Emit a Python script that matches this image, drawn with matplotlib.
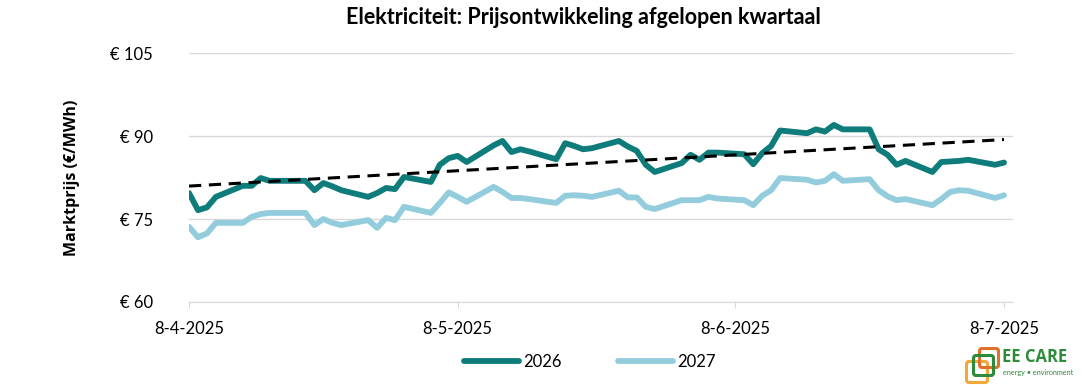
import numpy as np
import pandas as pd
import matplotlib
matplotlib.use('Agg')
from matplotlib import pyplot as plt
import matplotlib.dates as mdates
from matplotlib.patches import FancyBboxPatch

# Handelsdagen (werkdagen) afgelopen kwartaal
datums = [
    '2025-04-08', '2025-04-09', '2025-04-10', '2025-04-11',
    '2025-04-14', '2025-04-15', '2025-04-16', '2025-04-17', '2025-04-18',
    '2025-04-21', '2025-04-22', '2025-04-23', '2025-04-24', '2025-04-25',
    '2025-04-28', '2025-04-29', '2025-04-30', '2025-05-01', '2025-05-02',
    '2025-05-05', '2025-05-06', '2025-05-07', '2025-05-08', '2025-05-09',
    '2025-05-12', '2025-05-13', '2025-05-14', '2025-05-15', '2025-05-16',
    '2025-05-19', '2025-05-20', '2025-05-21', '2025-05-22', '2025-05-23',
    '2025-05-26', '2025-05-27', '2025-05-28', '2025-05-29', '2025-05-30',
    '2025-06-02', '2025-06-03', '2025-06-04', '2025-06-05', '2025-06-06',
    '2025-06-09', '2025-06-10', '2025-06-11', '2025-06-12', '2025-06-13',
    '2025-06-16', '2025-06-17', '2025-06-18', '2025-06-19', '2025-06-20',
    '2025-06-23', '2025-06-24', '2025-06-25', '2025-06-26', '2025-06-27',
    '2025-06-30', '2025-07-01', '2025-07-02', '2025-07-03', '2025-07-04',
    '2025-07-07', '2025-07-08',
]

prijs_2026 = [
    79.7, 76.6, 77.1, 79.0,
    81.0, 81.0, 82.4, 81.9, 81.9,
    81.9, 80.2, 81.5, 80.9, 80.2,
    79.0, 79.7, 80.6, 80.4, 82.6,
    81.7, 84.8, 86.0, 86.4, 85.3,
    88.3, 89.1, 87.1, 87.6, 87.2,
    85.8, 88.7, 88.2, 87.6, 87.8,
    89.1, 88.1, 87.3, 84.8, 83.5,
    85.1, 86.6, 85.7, 87.0, 87.0,
    86.7, 84.9, 86.9, 88.2, 91.0,
    90.5, 91.2, 90.8, 92.0, 91.2,
    91.2, 87.6, 86.6, 84.8, 85.5,
    83.5, 85.3, 85.4, 85.5, 85.7,
    84.8, 85.2,
]

prijs_2027 = [
    73.6, 71.7, 72.4, 74.3,
    74.3, 75.4, 75.9, 76.1, 76.1,
    76.1, 73.9, 75.0, 74.3, 73.9,
    74.8, 73.4, 75.2, 74.8, 77.2,
    76.1, 77.9, 79.8, 79.0, 78.1,
    80.8, 79.9, 78.8, 78.8, 78.6,
    77.9, 79.2, 79.3, 79.2, 79.0,
    80.1, 78.9, 78.9, 77.2, 76.8,
    78.4, 78.4, 78.4, 79.0, 78.7,
    78.4, 77.5, 79.2, 80.2, 82.4,
    82.1, 81.6, 81.9, 83.1, 81.9,
    82.2, 80.2, 79.1, 78.4, 78.6,
    77.5, 78.6, 79.9, 80.2, 80.1,
    78.8, 79.3,
]

x_ticks = ['2025-04-08', '2025-05-08', '2025-06-08', '2025-07-08']
y_ticks = [60, 75, 90, 105]

plt.rcParams['font.family'] = ['Lato', 'DejaVu Sans']

x = pd.to_datetime(datums)
xn = mdates.date2num(x)

kleur_2026 = '#0E7C7B'
kleur_2027 = '#93CDDD'

fig = plt.figure(figsize=(10.82, 3.85), dpi=100)
ax = fig.add_axes([0.1747, 0.2156, 0.7615, 0.6467])

ax.plot(x, prijs_2026, color=kleur_2026, lw=4.2, solid_capstyle='round',
        solid_joinstyle='round', label='2026', zorder=3)
ax.plot(x, prijs_2027, color=kleur_2027, lw=4.2, solid_capstyle='round',
        solid_joinstyle='round', label='2027', zorder=2)

# Lineaire trendlijn van 2026
coef = np.polyfit(xn, prijs_2026, 1)
ax.plot(x, np.polyval(coef, xn), color='black', lw=2.2, ls=(0, (4, 2.5)), zorder=4)

ax.set_ylim(60, 105)
ax.set_yticks(y_ticks)
ax.set_yticklabels([f'€ {v}' for v in y_ticks], fontsize=12)
ax.set_xlim(pd.Timestamp('2025-04-08'), pd.Timestamp('2025-07-09'))
ax.set_xticks(pd.to_datetime(x_ticks))
ax.set_xticklabels([pd.Timestamp(d).strftime('%-d-%-m-%Y') for d in x_ticks], fontsize=12)

ax.grid(axis='y', color='#D9D9D9', lw=1)
ax.set_axisbelow(True)
for s in ['top', 'right', 'left']:
    ax.spines[s].set_visible(False)
ax.spines['bottom'].set_color('#D9D9D9')
ax.tick_params(axis='y', length=0, pad=26)
ax.tick_params(axis='x', length=4, color='#D9D9D9', pad=10)

ax.set_ylabel('Marktprijs (€/MWh)', fontsize=11.5, fontweight='bold', labelpad=22,
              family=['Open Sans', 'DejaVu Sans'])

fig.text(0.539, 0.955, 'Elektriciteit: Prijsontwikkeling afgelopen kwartaal',
         ha='center', va='center', fontsize=15.5, fontweight='bold',
         family=['Liberation Sans Narrow', 'Lato', 'DejaVu Sans'])

fig.legend(loc='center', bbox_to_anchor=(0.545, 0.06), ncol=2, frameon=False,
           fontsize=12, handlelength=3.3, handletextpad=0.25, columnspacing=3.4)

# Logo EE CARE (assen in pixel-eenheden)
lax = fig.add_axes([957 / 1082, 0.0, 125 / 1082, 46 / 385])
lax.set_xlim(0, 125)
lax.set_ylim(0, 46)
lax.axis('off')
lax.add_patch(FancyBboxPatch((12, 5), 16, 16, boxstyle='round,pad=2.5', fill=False,
                             ec='#F2A93B', lw=2.2))
lax.add_patch(FancyBboxPatch((25, 20), 14, 14, boxstyle='round,pad=2.5', fill=False,
                             ec='#E0702A', lw=2.2))
lax.add_patch(FancyBboxPatch((19, 12), 15, 15, boxstyle='round,pad=2.5', fill=False,
                             ec='#2E8B3A', lw=2.2))
lax.text(45, 28, 'EE CARE', color='#2E8B3A', fontsize=12, fontweight='bold', va='center',
         family=['Open Sans', 'DejaVu Sans'])
lax.text(46, 12, 'energy • environment', color='#2E8B3A', fontsize=5.2, va='center')

fig.savefig('out.png', dpi=100)
